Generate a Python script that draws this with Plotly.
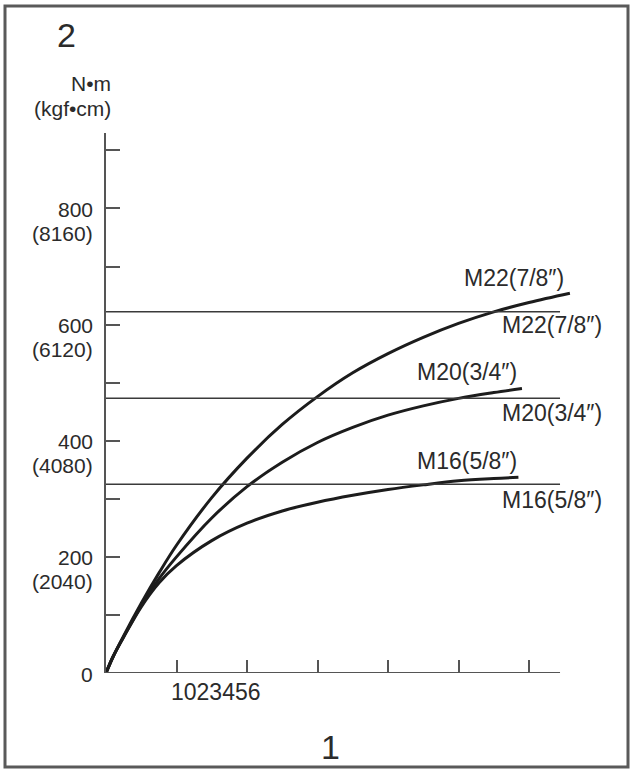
import plotly.graph_objects as go

# ---- data ----
x_m22 = [0, 0.1, 0.25, 0.5, 0.75, 1.0, 1.5, 2.0, 2.5, 3.0, 3.5, 4.0, 4.5, 5.0, 5.5, 6.0, 6.58]
y_m22 = [0, 28, 64, 120, 172, 220, 302, 370, 428, 476, 517, 550, 578, 602, 622, 638, 654]
x_m20 = [0, 0.1, 0.25, 0.5, 0.75, 1.0, 1.5, 2.0, 2.5, 3.0, 3.5, 4.0, 4.5, 5.0, 5.5, 5.9]
y_m20 = [0, 28, 62, 116, 162, 200, 267, 321, 363, 397, 423, 444, 460, 473, 483, 490]
x_m16 = [0, 0.1, 0.25, 0.5, 0.75, 1.0, 1.5, 2.0, 2.5, 3.0, 3.5, 4.0, 4.5, 5.0, 5.5, 5.85]
y_m16 = [0, 28, 62, 114, 155, 185, 228, 258, 279, 294, 306, 316, 324, 331, 335, 337]

limit_names = ["M22(7/8″)", "M20(3/4″)", "M16(5/8″)"]
limit_values = [622, 473, 325]
limit_x = [0, 6.44]

y_ticks = [100, 200, 300, 400, 500, 600, 700, 800, 900]
y_label_vals = [0, 200, 400, 600, 800]
y_label_nm = ["0", "200", "400", "600", "800"]
y_label_kgf = ["", "(2040)", "(4080)", "(6120)", "(8160)"]
x_ticks = [1, 2, 3, 4, 5, 6]
x_label_text = "1023456"
unit_nm = "N•m"
unit_kgf = "(kgf•cm)"
fig_no_top = "2"
fig_no_bottom = "1"

# ---- layout geometry (pixels) ----
W, H = 632, 770
L, R, T, B = 106, 572, 133, 673
XMAX = (R - L) / 70.5
YMAX = 930


def px(xp):
    return (xp - L) / (R - L)


def py(yp):
    return (B - yp) / (B - T)


FONT = "Liberation Sans, Arial, sans-serif"
TXT = "#2b2b2b"
AX = "#555555"

fig = go.Figure()

for xs, ys in [(x_m22, y_m22), (x_m20, y_m20), (x_m16, y_m16)]:
    fig.add_trace(go.Scatter(x=xs, y=ys, mode="lines",
                             line=dict(color="#1c1c1c", width=3, shape="spline", smoothing=1),
                             showlegend=False, hoverinfo="skip"))

for v in limit_values:
    fig.add_trace(go.Scatter(x=limit_x, y=[v, v], mode="lines",
                             line=dict(color="#3a3a3a", width=1.5),
                             showlegend=False, hoverinfo="skip"))

annotations = []
# y axis labels
for v, a, b in zip(y_label_vals, y_label_nm, y_label_kgf):
    annotations.append(dict(x=px(95), xref="paper", y=v, yref="y", text=a,
                            xanchor="right", yanchor="middle", yshift=-1,
                            showarrow=False, font=dict(size=21, color=TXT, family=FONT)))
    if b:
        annotations.append(dict(x=px(95), xref="paper", y=v, yref="y", text=b,
                                xanchor="right", yanchor="middle", yshift=-25,
                                showarrow=False, font=dict(size=21, color=TXT, family=FONT)))

# curve labels (upper: at curve ends, lower: at line ends)
upper_pos = [(462, 278), (415, 372), (415, 461)]
lower_pos = [(500, 325), (500, 413), (500, 500)]
for name, (ux, uy), (lx, ly) in zip(limit_names, upper_pos, lower_pos):
    annotations.append(dict(x=px(ux), xref="paper", y=py(uy), yref="paper", text=name,
                            xanchor="left", yanchor="middle", showarrow=False,
                            font=dict(size=23, color=TXT, family=FONT)))
    annotations.append(dict(x=px(lx), xref="paper", y=py(ly), yref="paper", text=name,
                            xanchor="left", yanchor="middle", showarrow=False,
                            font=dict(size=23, color=TXT, family=FONT)))

annotations += [
    dict(x=px(113), xref="paper", y=py(84), yref="paper", text=unit_nm, xanchor="right",
         yanchor="middle", showarrow=False, font=dict(size=21, color=TXT, family=FONT)),
    dict(x=px(113), xref="paper", y=py(108), yref="paper", text=unit_kgf, xanchor="right",
         yanchor="middle", showarrow=False, font=dict(size=21, color=TXT, family=FONT)),
    dict(x=px(66), xref="paper", y=py(35), yref="paper", text=fig_no_top, xanchor="center",
         yanchor="middle", showarrow=False, font=dict(size=34, color=TXT, family=FONT)),
    dict(x=px(330), xref="paper", y=py(747), yref="paper", text=fig_no_bottom, xanchor="center",
         yanchor="middle", showarrow=False, font=dict(size=34, color=TXT, family=FONT)),
    dict(x=px(216), xref="paper", y=py(692), yref="paper", text=x_label_text, xanchor="center",
         yanchor="middle", showarrow=False, font=dict(size=23, color=TXT, family=FONT)),
]

shapes = [
    # frame
    dict(type="rect", xref="paper", yref="paper", x0=px(5), x1=px(628), y0=py(767), y1=py(6),
         line=dict(color="#5a5a5a", width=3), layer="below"),
    # x axis line (ends before the plot edge)
    dict(type="line", xref="x", yref="y", x0=0, x1=limit_x[1], y0=0, y1=0,
         line=dict(color=AX, width=2)),
]

fig.update_layout(
    width=W, height=H,
    margin=dict(l=L, r=W - R, t=T, b=H - B, pad=0),
    paper_bgcolor="white", plot_bgcolor="white",
    showlegend=False,
    annotations=annotations, shapes=shapes,
    xaxis=dict(range=[0, XMAX], showline=False, showgrid=False, zeroline=False,
               ticks="inside", ticklen=13, tickwidth=2, tickcolor=AX,
               tickvals=x_ticks, showticklabels=False, fixedrange=True),
    yaxis=dict(range=[0, YMAX], showline=True, linecolor=AX, linewidth=2,
               showgrid=False, zeroline=False,
               ticks="inside", ticklen=14, tickwidth=2, tickcolor=AX,
               tickvals=y_ticks, showticklabels=False, fixedrange=True),
)

fig.write_html("out.html")
